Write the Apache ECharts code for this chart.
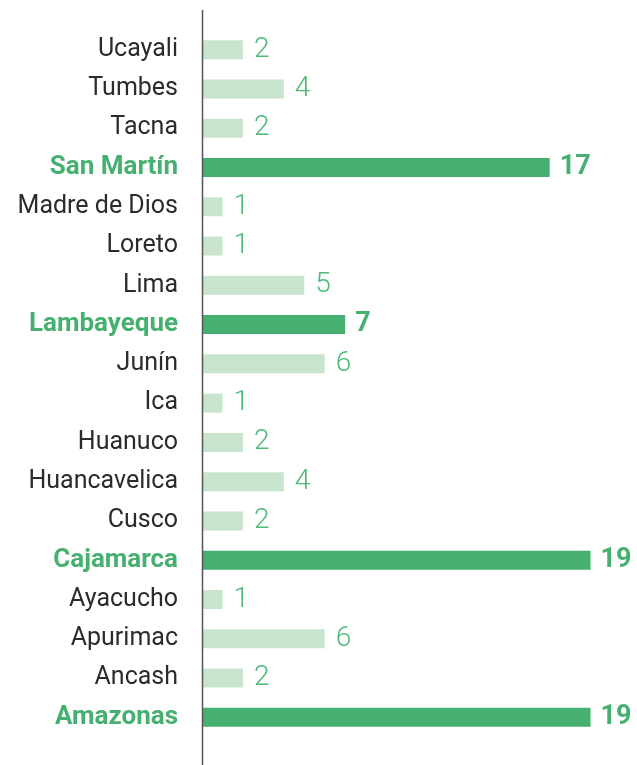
<!DOCTYPE html>
<html>
<head>
<meta charset="utf-8">
<script src="https://cdn.jsdelivr.net/npm/echarts@6/dist/echarts.min.js"></script>
<style>
html,body{margin:0;padding:0;background:#ffffff;}
#chart{width:637px;height:765px;}
</style>
</head>
<body>
<div id="chart"></div>
<script>
var categories = ["Ucayali","Tumbes","Tacna","San Martín","Madre de Dios","Loreto","Lima","Lambayeque","Junín","Ica","Huanuco","Huancavelica","Cusco","Cajamarca","Ayacucho","Apurimac","Ancash","Amazonas"];
var values = [2,4,2,17,1,1,5,7,6,1,2,4,2,19,1,6,2,19];
var highlighted = ["San Martín","Lambayeque","Cajamarca","Amazonas"];

var DARK = "#45b06f";
var LIGHT = "#c9e4cd";
var FONT = "Roboto, 'Noto Sans', sans-serif";

var chart = echarts.init(document.getElementById('chart'), null, {renderer:'canvas'});

var seriesData = values.map(function(v, i){
  var hl = highlighted.indexOf(categories[i]) >= 0;
  return {
    value: v,
    itemStyle: {color: hl ? DARK : LIGHT},
    label: hl ? {fontWeight: 'bold', fontSize: 27, color: DARK, distance: 10} :
                {fontWeight: 300, fontSize: 28, color: '#4dba78', distance: 11}
  };
});

var GRID_LEFT = 202;
chart.setOption({
  backgroundColor: '#ffffff',
  animation: false,
  grid: {left: GRID_LEFT, right: 26, top: 30, bottom: 28, containLabel: false},
  xAxis: {
    type: 'value', min: 0, max: 20, show: false
  },
  yAxis: {
    type: 'category',
    inverse: true,
    data: categories,
    axisLine: {show: false},
    axisTick: {show: false},
    axisLabel: {
      margin: 24,
      formatter: function(v){
        return highlighted.indexOf(v) >= 0 ? '{h|' + v + '}' : '{n|' + v + '}';
      },
      rich: {
        n: {fontFamily: FONT, fontSize: 25, color: '#2b2b2b', fontWeight: 400},
        h: {fontFamily: FONT, fontSize: 26, color: DARK, fontWeight: 'bold'}
      }
    }
  },
  series: [{
    type: 'bar',
    data: seriesData,
    barWidth: 19,
    label: {show: true, position: 'right', fontFamily: FONT}
  }],
  graphic: [{
    type: 'line',
    shape: {x1: GRID_LEFT + 0.5, y1: 10, x2: GRID_LEFT + 0.5, y2: 765},
    style: {stroke: '#555555', lineWidth: 1.5},
    z: 10
  }]
});
</script>
</body>
</html>
